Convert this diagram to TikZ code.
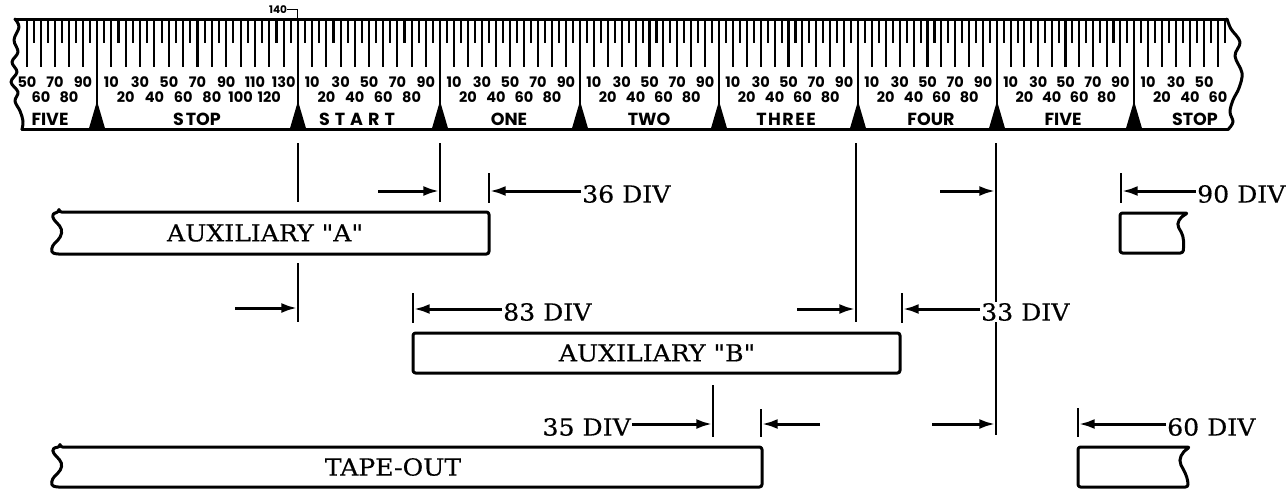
\documentclass[tikz,border=0pt]{standalone}
\usepackage{fontspec}
\setmainfont{DejaVu Serif}[FakeStretch=1.07, FakeBold=0.4, Ligatures=TeXOff]
\newfontfamily\tapefont{Poppins}
\usetikzlibrary{arrows.meta}
\tikzset{
  tick/.style={line width=2.1pt},
  tapeedge/.style={line width=3pt, line join=round, line cap=round},
  tapenum/.style={font=\tapefont\bfseries\fontsize{14.5}{15}\selectfont, inner sep=0pt},
  smallnum/.style={font=\tapefont\bfseries\fontsize{10.5}{11}\selectfont, inner sep=0pt},
  secname/.style={font=\tapefont\bfseries\fontsize{17.5}{18}\selectfont, inner sep=0pt},
  extline/.style={line width=1.7pt},
  bar/.style={line width=3pt, line join=round, rounded corners=2.5pt},
  bartext/.style={font=\fontsize{23.5}{27}\selectfont, inner sep=0pt},
  dimtext/.style={font=\fontsize{23.5}{27}\selectfont, inner sep=1pt},
  dimarrow/.style={line width=3pt, -{Latex[length=16pt,width=10pt]}},
}
\begin{document}
\begin{tikzpicture}[x=1pt,y=-1pt]
\useasboundingbox (0,0) rectangle (1287,490);
% ---------------- tape scale ----------------
\foreach \a/\b/\n [count=\s] in {97/298/140,298/440/100,440/580/100,580/719/100,719/858/100,858/997/100,997/1134/100}{
  \foreach \d in {5,10,...,135}{
    \ifnum\d<\n\relax
      \pgfmathsetmacro\xx{\a+(\b-\a)/\n*\d}
      \pgfmathtruncatemacro\mm{mod(\d,10)}
      \ifnum\mm=0\relax
        \draw[tick] (\xx,19) -- (\xx,67);
      \else
        \draw[tick] (\xx,19) -- (\xx,43);
      \fi
    \fi
  }
  \foreach \d in {10,20,...,130}{
    \ifnum\d<\n\relax
      \pgfmathsetmacro\xx{\a+(\b-\a)/\n*\d}
      \pgfmathtruncatemacro\rr{mod(\d,20)}
      \ifnum\rr=0\relax
        \node[tapenum] (n\s-\d) at (\xx,97) {\d};
      \else
        \node[tapenum] (n\s-\d) at (\xx,82) {\d};
      \fi
    \fi
  }
}
% left partial section (FIVE)
\foreach \d in {50,55,...,95}{
  \pgfmathsetmacro\xx{97-(100-\d)*1.4}
  \pgfmathtruncatemacro\mm{mod(\d,10)}
  \ifnum\mm=0\relax
    \draw[tick] (\xx,19) -- (\xx,67);
  \else
    \draw[tick] (\xx,19) -- (\xx,43);
  \fi
}
\foreach \d/\yy in {50/82,60/97,70/82,80/97,90/82}{
  \pgfmathsetmacro\xx{97-(100-\d)*1.4}
  \node[tapenum] (n0-\d) at (\xx,\yy) {\d};
}
% right partial section (STOP)
\foreach \d in {5,10,...,65}{
  \pgfmathsetmacro\xx{1134+\d*1.4}
  \pgfmathtruncatemacro\mm{mod(\d,10)}
  \ifnum\mm=0\relax
    \draw[tick] (\xx,19) -- (\xx,67);
  \else
    \draw[tick] (\xx,19) -- (\xx,43);
  \fi
}
\foreach \d/\yy in {10/82,20/97,30/82,40/97,50/82,60/97}{
  \pgfmathsetmacro\xx{1134+\d*1.4}
  \node[tapenum] (n8-\d) at (\xx,\yy) {\d};
}
% section boundaries and pointers
\foreach \x in {97,298,440,580,719,858,997,1134}{
  \draw[tick] (\x,19) -- (\x,128);
  \fill (\x-8.5,130) -- (\x,101) -- (\x+8.5,130) -- cycle;
}
% section names
\node[secname] (s0) at (50,119) {FIVE};
\node[secname] (s1) at (197,119) {S\kern2pt TOP};
\node[secname] (s2) at (357,119) {S\kern5pt T\kern5pt A\kern5pt R\kern5pt T};
\node[secname] (s3) at (509,119) {ONE};
\node[secname] (s4) at (649,119) {TWO};
\node[secname] (s5) at (786,119) {T\kern1.5pt H\kern1.5pt R\kern1.5pt E\kern1.5pt E};
\node[secname] (s6) at (931,119) {FOUR};
\node[secname] (s7) at (1063,119) {FIVE};
\node[secname] (s8) at (1195,119) {STOP};
% tape outline
\draw[tapeedge] (15,19) -- (1227,19);
\draw[tapeedge] (22,129.5) -- (1228,129.5);
\draw[tapeedge] plot[smooth, tension=0.6] coordinates {(15,19) (19,27) (14,40) (18,52) (12,62) (17,72) (11,82) (18,92) (15,101) (20,111) (23,121) (22,129.5)};
\draw[tapeedge] plot[smooth, tension=0.6] coordinates {(1227,19) (1231,29) (1240,42) (1235,56) (1242,73) (1239,88) (1233,100) (1230,112) (1233,122) (1228,129.5)};
% 140 label
\node[smallnum] (n140) at (278,9.5) {140};
\coordinate (k140) at (297.5,19);
\draw[line width=1.4pt] (n140.east) -- (n140.east -| k140) -- (k140);
% ---------------- bars ----------------
\draw[bar] (59,212) -- (489,212) -- (489,254) -- (56,254)
  .. controls (50,252) and (52,246) .. (56,242)
  .. controls (62,236) and (63,230) .. (58,224)
  .. controls (53,219) and (50,214) .. (59,212) -- cycle;
\node[bartext] (la) at (265,233) {AUXILIARY "A"};
\draw[bar] (1120,213) -- (1188,213)
  .. controls (1180,217) and (1176,223) .. (1180,230)
  .. controls (1184,237) and (1184,245) .. (1183,253) -- (1120,253) -- cycle;
\draw[bar] (413,333) rectangle (900,373);
\node[bartext] (lb) at (657,353) {AUXILIARY "B"};
\draw[bar] (60,447) -- (762,447) -- (762,487) -- (56,487)
  .. controls (50,485) and (52,479) .. (56,475)
  .. controls (62,469) and (63,464) .. (58,458)
  .. controls (53,453) and (50,448) .. (60,447) -- cycle;
\node[bartext] (lt) at (393,467) {TAPE-OUT};
\draw[bar] (1078,447) -- (1190,447)
  .. controls (1182,452) and (1178,459) .. (1182,467)
  .. controls (1186,474) and (1188,480) .. (1188,487) -- (1078,487) -- cycle;
% ---------------- extension lines ----------------
\coordinate (v298a) at (298,143); \coordinate (v298b) at (298,202);
\coordinate (v298c) at (298,263); \coordinate (v298d) at (298,322);
\coordinate (v440a) at (440,143); \coordinate (v440b) at (440,202);
\coordinate (v856a) at (856,143); \coordinate (v856b) at (856,322);
\coordinate (v996a) at (996,143); \coordinate (v996b) at (996,435);
\coordinate (v713a) at (713,385); \coordinate (v713b) at (713,437);
\draw[extline] (v298a) -- (v298b);
\draw[extline] (v298c) -- (v298d);
\draw[extline] (v440a) -- (v440b);
\draw[extline] (v856a) -- (v856b);
\draw[extline] (v996a) -- (v996b);
\draw[extline] (v713a) -- (v713b);
\coordinate (t489a) at (489,173); \coordinate (t489b) at (489,203);
\coordinate (t1121a) at (1121,173); \coordinate (t1121b) at (1121,203);
\coordinate (t413a) at (413,293); \coordinate (t413b) at (413,323);
\coordinate (t902a) at (902,293); \coordinate (t902b) at (902,323);
\coordinate (t761a) at (761,409); \coordinate (t761b) at (761,437);
\coordinate (t1078a) at (1078,408); \coordinate (t1078b) at (1078,437);
\foreach \p in {489,1121,413,902,761,1078}{
  \draw[extline] (t\p a) -- (t\p b);
}
% ---------------- dimension arrows ----------------
% row 1
\coordinate (a1s) at (378,191); \coordinate (a1e) at (439.3,191);
\draw[dimarrow] (a1s) -- (a1e);
\coordinate (a2s) at (581,191); \coordinate (a2e) at (489.7,191);
\node[dimtext, anchor=west, yshift=-3pt] (d36) at (a2s) {36 DIV};
\draw[dimarrow] (a2s) -- (a2e);
\coordinate (a3s) at (940,191); \coordinate (a3e) at (995.3,191);
\draw[dimarrow] (a3s) -- (a3e);
\coordinate (a4s) at (1196,191); \coordinate (a4e) at (1121.7,191);
\node[dimtext, anchor=west, yshift=-3pt] (d90) at (a4s) {90 DIV};
\draw[dimarrow] (a4s) -- (a4e);
% row 2
\coordinate (b1s) at (235,308); \coordinate (b1e) at (297.3,308);
\draw[dimarrow] (b1s) -- (b1e);
\coordinate (b2s) at (502,309); \coordinate (b2e) at (413.7,309);
\node[dimtext, anchor=west, yshift=-3pt] (d83) at (b2s) {83 DIV};
\draw[dimarrow] (b2s) -- (b2e);
\coordinate (b3s) at (797,309); \coordinate (b3e) at (855.3,309);
\draw[dimarrow] (b3s) -- (b3e);
\coordinate (b4s) at (980,309); \coordinate (b4e) at (902.7,309);
\node[dimtext, anchor=west, yshift=-3pt, fill=white] (d33) at (b4s) {33 DIV};
\draw[dimarrow] (b4s) -- (b4e);
% row 3
\coordinate (c1s) at (632,424); \coordinate (c1e) at (712.3,424);
\node[dimtext, anchor=east, yshift=-3pt] (d35) at (c1s) {35 DIV};
\draw[dimarrow] (c1s) -- (c1e);
\coordinate (c2s) at (820,424); \coordinate (c2e) at (761.7,424);
\draw[dimarrow] (c2s) -- (c2e);
\coordinate (c3s) at (932,424); \coordinate (c3e) at (995.3,424);
\draw[dimarrow] (c3s) -- (c3e);
\coordinate (c4s) at (1166,424); \coordinate (c4e) at (1078.7,424);
\node[dimtext, anchor=west, yshift=-3pt] (d60) at (c4s) {60 DIV};
\draw[dimarrow] (c4s) -- (c4e);
\end{tikzpicture}
\end{document}
